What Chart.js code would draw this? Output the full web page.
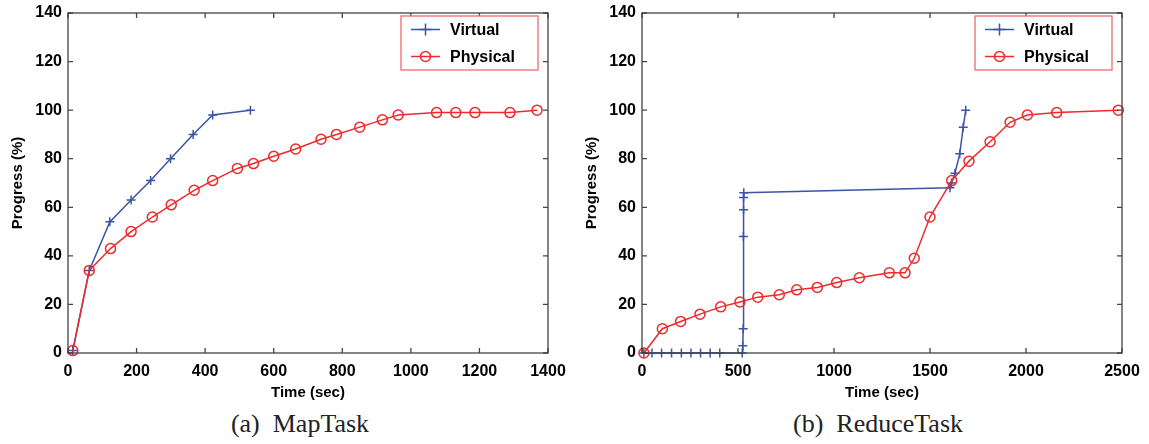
<!DOCTYPE html>
<html>
<head>
<meta charset="utf-8">
<script src="https://cdn.jsdelivr.net/npm/chart.js@4.4.1/dist/chart.umd.min.js"></script>
<style>
  html, body { margin: 0; padding: 0; background: #fff; }
  #wrap { position: relative; width: 1149px; height: 444px; overflow: hidden; }
  .panel { position: absolute; top: 0; height: 405px; }
  .caption {
    position: absolute; top: 409px; line-height: 30px;
    font-family: "Liberation Serif", "DejaVu Serif", serif; font-size: 26px;
    color: #222; white-space: pre; transform: translateX(-50%);
  }
</style>
</head>
<body>
<div id="wrap">
  <div class="panel" style="left:0;width:574px"><canvas id="mapChart"></canvas></div>
  <div class="panel" style="left:574px;width:575px"><canvas id="reduceChart"></canvas></div>
  <div class="caption" style="left:300px">(a)  MapTask</div>
  <div class="caption" style="left:878px">(b)  ReduceTask</div>
</div>
<script>
// MapTask progress
const mapVirtualTime = [14, 62, 122, 184, 241, 299, 365, 422, 532];
const mapVirtualProgress = [1, 34, 54, 63, 71, 80, 90, 98, 100];
const mapPhysicalTime = [14, 62, 124, 184, 246, 301, 368, 422, 494, 541, 600, 664, 738, 783, 851, 917, 963, 1075, 1131, 1187, 1289, 1368];
const mapPhysicalProgress = [1, 34, 43, 50, 56, 61, 67, 71, 76, 78, 81, 84, 88, 90, 93, 96, 98, 99, 99, 99, 99, 100];

// ReduceTask progress
const reduceVirtualTime = [10, 52, 102, 154, 205, 255, 305, 355, 405, 522, 525, 527, 528, 529, 529, 530, 1604, 1612, 1630, 1655, 1673, 1686];
const reduceVirtualProgress = [0, 0, 0, 0, 0, 0, 0, 0, 0, 0, 3, 10, 48, 59, 64, 66, 68, 70, 74, 82, 93, 100];
const reducePhysicalTime = [10, 106, 201, 302, 410, 510, 603, 715, 806, 913, 1014, 1132, 1288, 1370, 1418, 1500, 1613, 1703, 1813, 1917, 2007, 2160, 2481];
const reducePhysicalProgress = [0, 10, 13, 16, 19, 21, 23, 24, 26, 27, 29, 31, 33, 33, 39, 56, 71, 79, 87, 95, 98, 99, 100];

// axis ticks
const mapTimeTicks = [0, 200, 400, 600, 800, 1000, 1200, 1400];
const reduceTimeTicks = [0, 500, 1000, 1500, 2000, 2500];
const progressTicks = [0, 20, 40, 60, 80, 100, 120, 140];

const BLUE = '#3a55a6';
const RED = '#ee2a2d';
const FONT = '"Liberation Sans", Arial, Helvetica, sans-serif';

Chart.defaults.font.family = FONT;
Chart.defaults.color = '#000';

function toPoints(xs, ys) {
    return xs.map((x, i) => ({ x: x, y: ys[i] }));
}

function drawMarker(ctx, style, x, y, r) {
    ctx.beginPath();
    if (style === 'circle') {
        ctx.arc(x, y, r, 0, Math.PI * 2);
    } else {
        ctx.moveTo(x - r, y); ctx.lineTo(x + r, y);
        ctx.moveTo(x, y - r); ctx.lineTo(x, y + r);
    }
    ctx.stroke();
}

// box with inward ticks on all four sides, plus the boxed legend
const framePlugin = {
    id: 'frame',
    afterDraw(chart) {
        const { ctx, chartArea: a, scales: { x, y } } = chart;
        ctx.save();
        ctx.strokeStyle = '#444';
        ctx.lineWidth = 1.3;
        ctx.strokeRect(a.left, a.top, a.right - a.left, a.bottom - a.top);
        ctx.beginPath();
        x.ticks.forEach(t => {
            const px = x.getPixelForValue(t.value);
            ctx.moveTo(px, a.bottom); ctx.lineTo(px, a.bottom - 5);
            ctx.moveTo(px, a.top); ctx.lineTo(px, a.top + 5);
        });
        y.ticks.forEach(t => {
            const py = y.getPixelForValue(t.value);
            ctx.moveTo(a.left, py); ctx.lineTo(a.left + 5, py);
            ctx.moveTo(a.right, py); ctx.lineTo(a.right - 5, py);
        });
        ctx.stroke();

        // legend
        const bw = 137, bh = 54;
        const bx = a.right - 10 - bw, by = a.top + 3;
        ctx.fillStyle = '#fff';
        ctx.fillRect(bx, by, bw, bh);
        ctx.strokeStyle = '#ef6a6a';
        ctx.lineWidth = 1.3;
        ctx.strokeRect(bx, by, bw, bh);
        ctx.font = 'bold 16px ' + FONT;
        ctx.textBaseline = 'middle';
        const rows = [by + 13.5, by + 40.5];
        chart.data.datasets.forEach((ds, i) => {
            const ry = rows[i];
            ctx.strokeStyle = ds.borderColor;
            ctx.lineWidth = 1.5;
            ctx.beginPath();
            ctx.moveTo(bx + 10, ry); ctx.lineTo(bx + 39, ry);
            ctx.stroke();
            drawMarker(ctx, ds.pointStyle, bx + 24.5, ry, ds.pointStyle === 'circle' ? 5 : 6);
            ctx.fillStyle = '#000';
            ctx.fillText(ds.label, bx + 49, ry + 1);
        });
        ctx.restore();
    }
};

function makeChart(id, vt, vp, pt, pp, xMax, xTicks, padRight) {
    const ctx = document.getElementById(id).getContext('2d');
    return new Chart(ctx, {
        type: 'line',
        data: {
            datasets: [{
                label: 'Virtual',
                data: toPoints(vt, vp),
                borderColor: BLUE,
                backgroundColor: 'transparent',
                borderWidth: 1.5,
                pointStyle: 'cross',
                pointRadius: 4.5,
                pointBorderWidth: 1.5,
                pointBorderColor: BLUE,
                order: 1,
                clip: false
            }, {
                label: 'Physical',
                data: toPoints(pt, pp),
                borderColor: RED,
                backgroundColor: 'transparent',
                borderWidth: 1.5,
                pointStyle: 'circle',
                pointRadius: 5,
                pointBorderWidth: 1.5,
                pointBorderColor: RED,
                pointBackgroundColor: 'transparent',
                order: 0,
                clip: false
            }]
        },
        options: {
            responsive: true,
            maintainAspectRatio: false,
            animation: false,
            layout: { padding: { top: 13, right: padRight, left: 0, bottom: 0 } },
            plugins: { legend: { display: false }, tooltip: { enabled: false } },
            elements: { line: { tension: 0 } },
            scales: {
                x: {
                    type: 'linear',
                    min: 0,
                    max: xMax,
                    afterBuildTicks: s => { s.ticks = xTicks.map(v => ({ value: v })); },
                    afterFit: s => { s.height = 52; s.paddingLeft = 0; s.paddingRight = 0; },
                    grid: { display: false, drawTicks: false },
                    border: { display: false },
                    ticks: { font: { size: 16, weight: 'bold' }, padding: 9, maxRotation: 0, callback: v => String(v) },
                    title: {
                        display: true, text: 'Time (sec)',
                        font: { size: 15, weight: 'bold' },
                        padding: { top: 0, bottom: 3 }
                    }
                },
                y: {
                    min: 0,
                    max: 140,
                    afterBuildTicks: s => { s.ticks = progressTicks.map(v => ({ value: v })); },
                    // keep the plot box at a fixed spot; labels may overhang the padding
                    afterFit: s => { s.width = 68; s.paddingTop = 0; s.paddingBottom = 0; },
                    grid: { display: false, drawTicks: false },
                    border: { display: false },
                    ticks: { font: { size: 16, weight: 'bold' }, padding: 6, callback: v => String(v) },
                    title: {
                        display: true, text: 'Progress (%)',
                        font: { size: 15, weight: 'bold' },
                        padding: { top: 9, bottom: 0 }
                    }
                }
            }
        },
        plugins: [framePlugin]
    });
}

makeChart('mapChart', mapVirtualTime, mapVirtualProgress, mapPhysicalTime, mapPhysicalProgress, 1400, mapTimeTicks, 26);
makeChart('reduceChart', reduceVirtualTime, reduceVirtualProgress, reducePhysicalTime, reducePhysicalProgress, 2500, reduceTimeTicks, 27);
</script>
</body>
</html>
